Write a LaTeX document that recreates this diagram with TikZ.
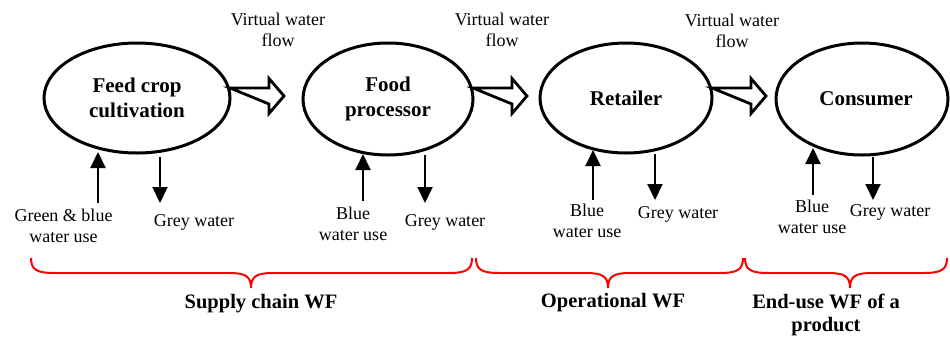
\documentclass[tikz,border=0pt]{standalone}
\usepackage{fontspec}
\setmainfont{LiberationSerif}[Extension=.ttf, UprightFont=*-Regular, BoldFont=*-Bold]
\usetikzlibrary{arrows.meta,shapes.geometric,calc}
\newcommand\redbrace[3]{%
  \draw[bracestyle] (#1,258) .. controls (#1,270) and (#1+6,273) .. (#1+24,273)
    -- (#2-22,273) .. controls (#2-6,273) and (#2,276) .. (#2,288)
    .. controls (#2,276) and (#2+6,273) .. (#2+22,273)
    -- (#3-24,273) .. controls (#3-6,273) and (#3,270) .. (#3,258);}
\begin{document}
\begin{tikzpicture}[x=1pt,y=-1pt,
  stage/.style={draw, line width=3pt, ellipse, inner sep=0pt,
    font=\rmfamily\fontsize{21}{25}\selectfont\bfseries, align=center},
  lbl/.style={font=\rmfamily\fontsize{18}{21}\selectfont, align=center, inner sep=0pt},
  brlbl/.style={font=\rmfamily\fontsize{20.5}{23}\selectfont\bfseries, align=center, inner sep=0pt},
  flowarrow/.style={draw, line width=2.8pt, fill=white, line join=miter},
  wuse/.style={line width=2pt, -{Triangle[width=15pt,length=16pt]}},
  bracestyle/.style={draw=red, line width=2pt}
]
\useasboundingbox (0,0) rectangle (950,338);

% flow arrows (drawn first, below ellipses)
\coordinate (f1) at (230,96);
\coordinate (f2) at (473,96);
\coordinate (f3) at (712,96);
\foreach \f in {f1,f2,f3}{
  \draw[flowarrow] ($(\f)+(0,-8)$) -- ++(39,0) -- ++(0,-9.5) -- ++(15,17.5)
    -- ++(-15,17.5) -- ++(0,-9.5) -- cycle;
}

% stages
\node[stage, minimum width=186pt, minimum height=110pt] (e1) at (137,98) {Feed crop\\cultivation};
\node[stage, minimum width=170pt, minimum height=112pt] (e2) at (388,99) {Food\\processor};
\node[stage, minimum width=172pt, minimum height=110pt] (e3) at (626,98) {Retailer};
\node[stage, minimum width=172pt, minimum height=112pt] (e4) at (862,99) {\hspace*{8pt}Consumer};

% virtual water flow labels
\node[lbl] (v1) at (278,30) {Virtual water\\flow};
\node[lbl] (v2) at (502,30) {Virtual water\\flow};
\node[lbl] (v3) at (732,31) {Virtual water\\flow};

% water use labels
\node[lbl] (u1) at (63.5,226) {Green \& blue\\water use};
\node[lbl] (g1) at (194,222) {Grey water};
\node[lbl] (u2) at (353,224) {Blue\\water use};
\node[lbl] (g2) at (445,222) {Grey water};
\node[lbl] (u3) at (587,221) {Blue\\water use};
\node[lbl] (g3) at (678,214) {Grey water};
\node[lbl] (u4) at (812,217) {Blue\\water use};
\node[lbl] (g4) at (890,212) {Grey water};

% vertical arrows
\coordinate (ua1) at (98,203);  \coordinate (ut1) at (98,152);
\coordinate (da1) at (160,157); \coordinate (dt1) at (160,203);
\coordinate (ua2) at (363,201); \coordinate (ut2) at (363,154);
\coordinate (da2) at (425,155); \coordinate (dt2) at (425,203);
\coordinate (ua3) at (593,200); \coordinate (ut3) at (593,150);
\coordinate (da3) at (655,154); \coordinate (dt3) at (655,200);
\coordinate (ua4) at (813,195); \coordinate (ut4) at (813,148);
\coordinate (da4) at (873,157); \coordinate (dt4) at (873,200);
\foreach \i in {1,2,3,4}{
  \draw[wuse] (ua\i) -- (ut\i);
  \draw[wuse] (da\i) -- (dt\i);
}

% braces
\redbrace{31}{251}{472}
\redbrace{476}{608}{743}
\redbrace{745}{850}{947}

\node[brlbl] (b1) at (261,304) {Supply chain WF};
\node[brlbl] (b2) at (613,303) {Operational WF};
\node[brlbl] (b3) at (826,315) {End-use WF of a\\product};
\end{tikzpicture}
\end{document}
